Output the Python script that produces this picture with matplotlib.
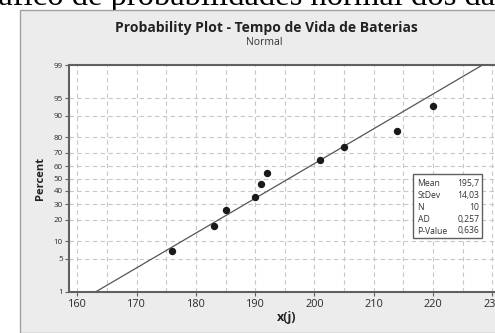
import matplotlib
matplotlib.use('Agg')
import matplotlib.pyplot as plt
import numpy as np
from statistics import NormalDist
from matplotlib.patches import Rectangle

# tempo de vida das baterias
vida = [176, 183, 185, 190, 191, 192, 201, 205, 214, 220]
percent_ticks = [1, 5, 10, 20, 30, 40, 50, 60, 70, 80, 90, 95, 99]
x_ticks = [160, 170, 180, 190, 200, 210, 220, 230]
x_grid = [165, 175, 185, 195, 205, 215, 225]
stat_labels = ['Mean', 'StDev', 'N', 'AD', 'P-Value']
stat_values = ['195,7', '14,03', '10', '0,257', '0,636']
mean_val = 195.7
sd_val = 14.03

W, H = 495, 333
nd = NormalDist()


def to_z(p):
    p = np.clip(np.asarray(p, dtype=float), 1e-6, 100 - 1e-6)
    return np.vectorize(lambda v: nd.inv_cdf(v / 100.0), otypes=[float])(p)


def from_z(z):
    z = np.asarray(z, dtype=float)
    return np.vectorize(lambda v: nd.cdf(v) * 100.0, otypes=[float])(z)


def fx(px):
    return px / W


def fy(py):
    return 1 - py / H


n = len(vida)
ordenado = sorted(vida)
pct = [(i - 0.3) / (n + 0.4) * 100 for i in range(1, n + 1)]

plt.rcParams['font.family'] = ['Open Sans', 'DejaVu Sans']
fig = plt.figure(figsize=(W / 100, H / 100), dpi=100)
fig.patch.set_facecolor('white')

# legenda do documento, cortada no topo
cap_font = dict(family='Liberation Serif', fontsize=23.5, color='black')
renderer = fig.canvas.get_renderer()
tmp = fig.text(0, 0, 'Gr', **cap_font)
shift = tmp.get_window_extent(renderer).width
tmp.remove()
fig.text(fx(-shift - 2), fy(5), 'Gráfico de probabilidades normal dos dados',
         va='baseline', ha='left', zorder=0.5, **cap_font)

# painel cinza do Minitab
panel = Rectangle((fx(20), 0), 1, fy(10), transform=fig.transFigure,
                  facecolor='#ececec', edgecolor='#a0a0a0', lw=1, zorder=1)
fig.add_artist(panel)

ax = fig.add_axes([fx(69), fy(292), 1 - fx(69), (292 - 65) / H])
ax.set_zorder(2)
ax.set_facecolor('white')
ax.set_yscale('function', functions=(to_z, from_z))
ax.set_ylim(1, 99)
ax.set_xlim(158.6, 230.45)

ax.set_yticks(percent_ticks)
ax.set_yticklabels([str(t) for t in percent_ticks])
ax.yaxis.set_minor_locator(matplotlib.ticker.NullLocator())
ax.set_xticks(x_ticks)
ax.set_xticks(x_grid, minor=True)

grid_kw = dict(color='#c8c8c8', linestyle=(0, (4, 3)), lw=0.8)
ax.grid(True, which='both', axis='x', **grid_kw)
ax.grid(True, which='major', axis='y', **grid_kw)
ax.set_axisbelow(True)

for s in ['left', 'bottom', 'top']:
    ax.spines[s].set_color('#606060')
    ax.spines[s].set_linewidth(1.5)
ax.spines['right'].set_visible(False)

ax.tick_params(axis='both', which='major', direction='out', length=3,
               width=0.8, color='#606060', labelcolor='#2a2a2a')
ax.tick_params(axis='y', labelsize=5.8, pad=1.5)
ax.tick_params(axis='x', labelsize=7.8, pad=2)
ax.tick_params(axis='x', which='minor', length=0)

# linha ajustada (media e desvio padrao)
x_lo = mean_val + sd_val * nd.inv_cdf(0.01)
x_hi = mean_val + sd_val * nd.inv_cdf(0.99)
ax.plot([x_lo, x_hi], [1, 99], color='#555555', lw=0.9, zorder=3)
ax.plot(ordenado, pct, 'o', color='#1a1a1a', ms=4.3, zorder=4)

fig.text(fx(266.5), fy(28), 'Probability Plot - Tempo de Vida de Baterias',
         ha='center', va='center', fontsize=10, fontweight='bold',
         color='#222222', zorder=3)
fig.text(fx(264), fy(42.5), 'Normal', ha='center', va='center',
         fontsize=7.5, color='#333333', zorder=3)
fig.text(fx(40.7), fy(178), 'Percent', rotation=90, ha='center', va='center',
         fontsize=8, fontweight='bold', color='#222222', zorder=3)
fig.text(fx(286.7), fy(318), 'x(j)', ha='center', va='center',
         fontsize=9, fontweight='bold', color='#222222', zorder=3)

# caixa de estatisticas
box = Rectangle((fx(413.3), fy(238.3)), (482.3 - 413.3) / W, (238.3 - 174) / H,
                transform=fig.transFigure, facecolor='white',
                edgecolor='#606060', lw=1, zorder=4)
fig.add_artist(box)
rows_y = [183.3, 195.3, 207.3, 219.3, 231]
for lab, val, yy in zip(stat_labels, stat_values, rows_y):
    fig.text(fx(417.5), fy(yy), lab, ha='left', va='center', fontsize=6.2,
             color='#333333', zorder=5)
    fig.text(fx(479.5), fy(yy), val, ha='right', va='center', fontsize=6.2,
             color='#333333', zorder=5)

fig.savefig('out.png', dpi=100)
